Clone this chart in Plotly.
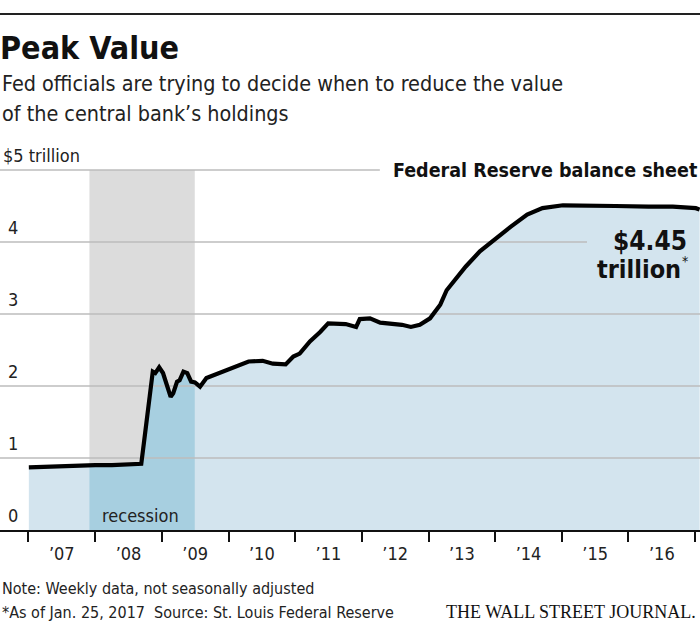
import numpy as np
import pandas as pd
import plotly.graph_objects as go

# ---- data (trillions of dollars) ----
dates = [
    "2007-01-03", "2007-04-04", "2007-07-04", "2007-10-03", "2008-01-02",
    "2008-04-02", "2008-07-02", "2008-09-10", "2008-09-24", "2008-10-08",
    "2008-10-22", "2008-11-12", "2008-11-26", "2008-12-17", "2009-01-07",
    "2009-01-28", "2009-02-18", "2009-03-04", "2009-03-25", "2009-04-08",
    "2009-04-29", "2009-05-20", "2009-06-10", "2009-07-01", "2009-07-29",
    "2009-09-02", "2009-11-11", "2010-01-06", "2010-04-21", "2010-07-07",
    "2010-09-01", "2010-11-10", "2010-12-22", "2011-01-26", "2011-03-23",
    "2011-05-18", "2011-07-01", "2011-10-05", "2011-12-01", "2011-12-21",
    "2012-02-15", "2012-04-11", "2012-06-20", "2012-08-08", "2012-09-26",
    "2012-11-14", "2013-01-09", "2013-03-06", "2013-04-10", "2013-07-24",
    "2013-10-09", "2013-12-25", "2014-03-26", "2014-06-25", "2014-09-17",
    "2015-01-07", "2015-05-13", "2015-10-21", "2016-04-20", "2016-08-31",
    "2017-01-04", "2017-01-25",
]
values = [
    0.87, 0.88, 0.88, 0.89, 0.90,
    0.90, 0.91, 0.92, 1.20, 1.50,
    1.80, 2.20, 2.18, 2.26, 2.18,
    1.99, 1.85, 1.90, 2.06, 2.08,
    2.20, 2.18, 2.06, 2.05, 1.99,
    2.11, 2.18, 2.25, 2.34, 2.35,
    2.31, 2.30, 2.41, 2.45, 2.62,
    2.75, 2.87, 2.86, 2.82, 2.93,
    2.94, 2.88, 2.87, 2.85, 2.82,
    2.85, 2.94, 3.13, 3.33, 3.66,
    3.87, 4.03, 4.21, 4.38, 4.47,
    4.51, 4.50, 4.50, 4.49, 4.49,
    4.47, 4.45,
]
recession = ["2007-12-01", "2009-06-30"]
y_ticks = [0, 1, 2, 3, 4, 5]
y_tick_labels = ["0", "1", "2", "3", "4", "$5 trillion"]

# ---- styling ----
FONT = "Liberation Sans Narrow, DejaVu Sans Condensed, Roboto Condensed, Roboto, sans-serif"
SERIF = "Liberation Serif, DejaVu Serif, serif"
LIGHT = "#d3e4ee"
DARK = "#a7cfe0"
GRAY = "#dcdcdc"
GRID = "#bdbdbd"

W, H = 700, 629
PLOT_BOTTOM = 530
PLOT_H = 364
X_RANGE = ["2006-07-29", "2017-01-27"]


def py(ypx):
    return (PLOT_BOTTOM - ypx) / PLOT_H


def px(xpx):
    return xpx / W


d = pd.to_datetime(dates)
dnum = d.astype("int64").to_numpy()
rs, re_ = pd.to_datetime(recession)
mask = (d > rs) & (d < re_)
rec_x = [rs] + list(d[mask]) + [re_]
rec_y = ([float(np.interp(rs.value, dnum, values))] + list(np.array(values)[mask])
         + [float(np.interp(re_.value, dnum, values))])

fig = go.Figure()

fig.add_trace(go.Scatter(x=d, y=values, mode="lines", line=dict(width=0),
                         fill="tozeroy", fillcolor=LIGHT, hoverinfo="skip"))
fig.add_trace(go.Scatter(x=rec_x, y=rec_y, mode="lines", line=dict(width=0),
                         fill="tozeroy", fillcolor=DARK, hoverinfo="skip"))

# gridlines above the fill, below the line
grid_ends = {1: X_RANGE[1], 2: X_RANGE[1], 3: X_RANGE[1], 4: "2015-05-19", 5: "2012-04-09"}
for yv in y_ticks[1:]:
    fig.add_trace(go.Scatter(x=[X_RANGE[0], grid_ends[yv]], y=[yv, yv], mode="lines",
                             line=dict(color=GRID, width=1.3), hoverinfo="skip"))

fig.add_trace(go.Scatter(x=d, y=values, mode="lines",
                         line=dict(color="#000000", width=4.2), hoverinfo="skip"))

# recession band
fig.add_shape(type="rect", xref="x", yref="y", x0=recession[0], x1=recession[1],
              y0=0, y1=5, fillcolor=GRAY, line=dict(width=0), layer="below")

# top rule
fig.add_shape(type="line", xref="paper", yref="paper", x0=0, x1=1, y0=py(14), y1=py(14),
              line=dict(color="#222222", width=2))

ann = []
# y tick labels
for yv, lab in zip(y_ticks, y_tick_labels):
    ann.append(dict(x=px(6 if yv < 5 else 1), y=yv, xref="paper", yref="y", text=lab,
                    showarrow=False, xanchor="left", yanchor="bottom", yshift=2,
                    font=dict(family=FONT, size=18, color="#222222")))

ann += [
    dict(x=0, y=py(27), xref="paper", yref="paper", text="<b>Peak Value</b>",
         showarrow=False, xanchor="left", yanchor="top", xshift=-2,
         font=dict(family=FONT, size=32, color="#111111")),
    dict(x=0, y=py(69), xref="paper", yref="paper",
         text="Fed officials are trying to decide when to reduce the value",
         showarrow=False, xanchor="left", yanchor="top",
         font=dict(family=FONT, size=21.4, color="#222222")),
    dict(x=0, y=py(99), xref="paper", yref="paper",
         text="of the central bank’s holdings",
         showarrow=False, xanchor="left", yanchor="top",
         font=dict(family=FONT, size=21.4, color="#222222")),
    dict(x=px(699), y=5, xref="paper", yref="y", text="<b>Federal Reserve balance sheet</b>",
         showarrow=False, xanchor="right", yanchor="middle",
         font=dict(family=FONT, size=19.5, color="#111111")),
    dict(x=px(689), y=py(241), xref="paper", yref="paper", text="<b>$4.45</b>",
         showarrow=False, xanchor="right", yanchor="middle",
         font=dict(family=FONT, size=26, color="#111111")),
    dict(x=px(683), y=py(269), xref="paper", yref="paper",
         text="<b>trillion</b>",
         showarrow=False, xanchor="right", yanchor="middle",
         font=dict(family=FONT, size=25, color="#111111")),
    dict(x=px(680), y=py(261), xref="paper", yref="paper",
         text="*",
         showarrow=False, xanchor="left", yanchor="middle",
         font=dict(family=FONT, size=14, color="#111111")),
    dict(x=px(100), y=0, xref="paper", yref="y", text="recession",
         showarrow=False, xanchor="left", yanchor="bottom", yshift=2,
         font=dict(family=FONT, size=18, color="#222222")),
    dict(x=0, y=py(588), xref="paper", yref="paper",
         text="Note: Weekly data, not seasonally adjusted",
         showarrow=False, xanchor="left", yanchor="middle",
         font=dict(family=FONT, size=16, color="#222222")),
    dict(x=0, y=py(612), xref="paper", yref="paper",
         text="*As of Jan. 25, 2017  Source: St. Louis Federal Reserve",
         showarrow=False, xanchor="left", yanchor="middle",
         font=dict(family=FONT, size=16, color="#222222")),
    dict(x=1, y=py(612), xref="paper", yref="paper",
         text="THE WALL STREET JOURNAL.",
         showarrow=False, xanchor="right", yanchor="middle", xshift=-2,
         font=dict(family=SERIF, size=18, color="#111111")),
]

fig.update_layout(
    width=W, height=H,
    margin=dict(l=0, r=0, t=PLOT_BOTTOM - PLOT_H, b=H - PLOT_BOTTOM, pad=0),
    paper_bgcolor="white", plot_bgcolor="white",
    showlegend=False,
    annotations=ann,
    xaxis=dict(
        type="date", range=X_RANGE, showgrid=False, zeroline=False,
        showline=True, linecolor="#111111", linewidth=2,
        ticks="outside", ticklen=10, tickwidth=2, tickcolor="#111111",
        dtick="M12", tick0="2007-01-01", ticklabelmode="period",
        ticklabelstandoff=-4,
        tickformat="’%y", tickfont=dict(family=FONT, size=18, color="#222222"),
    ),
    yaxis=dict(range=[0, PLOT_H / 72.0], showgrid=False, zeroline=False,
               showticklabels=False, ticks=""),
)

fig.write_html("out.html", config={"displayModeBar": False},
               post_script="document.body.style.margin='0';document.body.style.overflow='hidden';")
